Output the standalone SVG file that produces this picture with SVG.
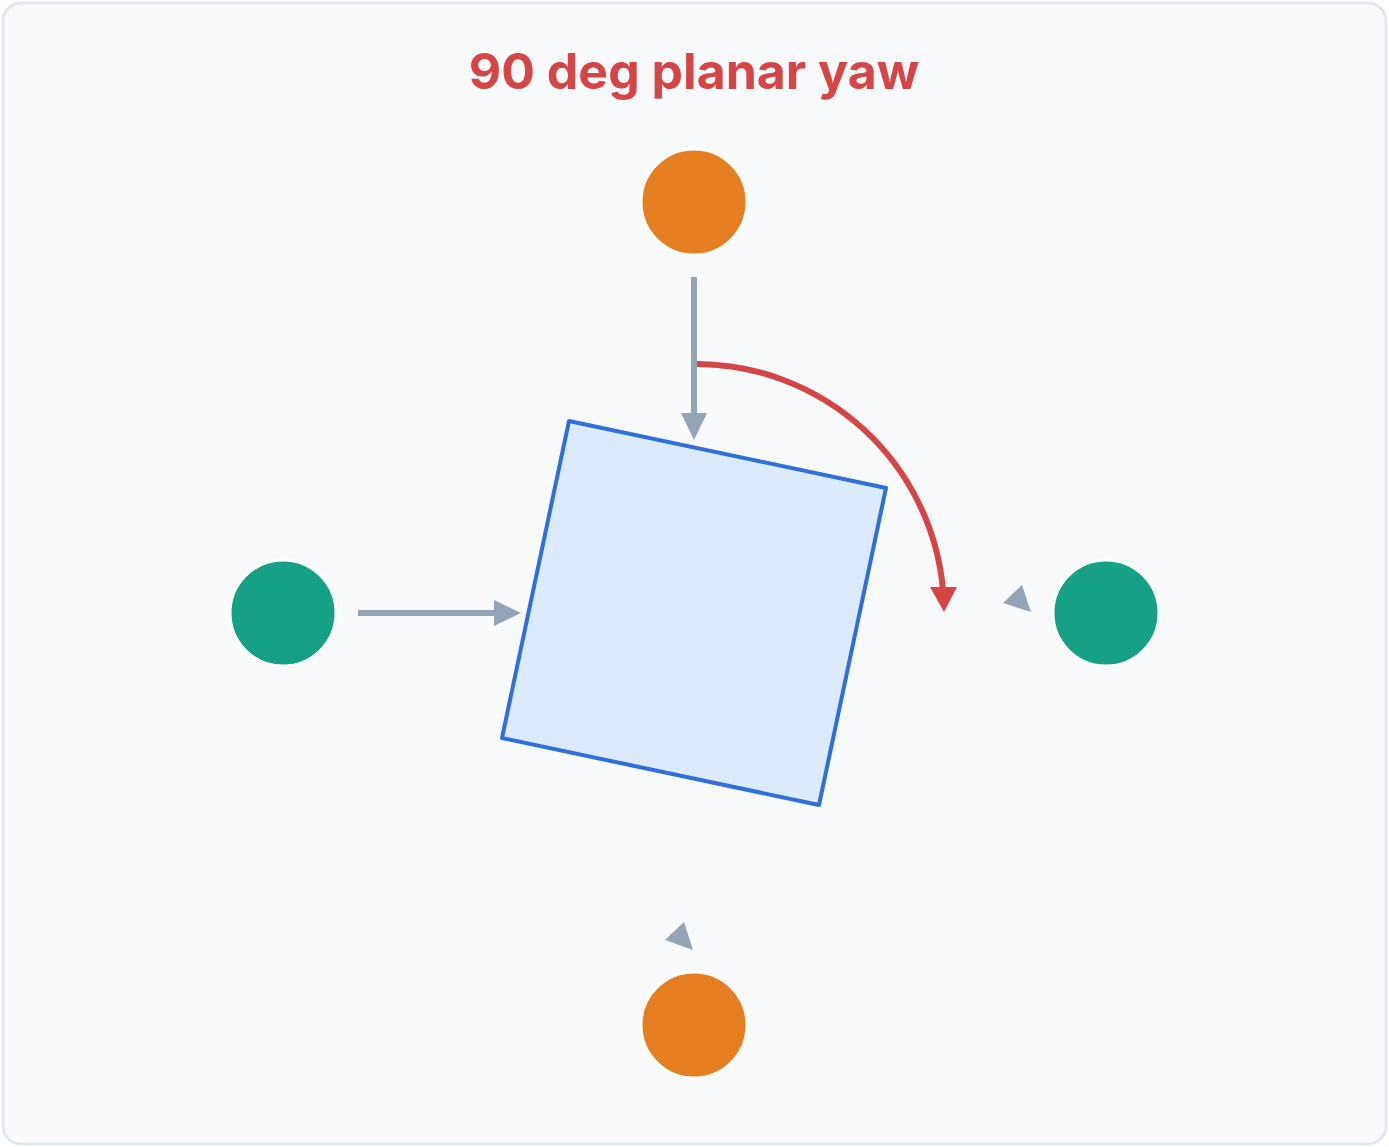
<svg xmlns="http://www.w3.org/2000/svg" width="1389" height="1147" viewBox="0 0 1389 1147">
<style>
.g{stroke:#94a3b8;stroke-width:6;fill:none}
.h{fill:#94a3b8}
</style>
<rect x="3" y="3" width="1383" height="1141" rx="18" fill="#f8fafc" stroke="#e2e8f0" stroke-width="3"/>
<text x="694" y="89" text-anchor="middle" font-family="Inter, 'Liberation Sans', sans-serif" font-weight="bold" font-size="50" fill="#d64545">90 deg planar yaw</text>
<g id="square"><polygon points="569,421 886,488 819,805 502,738" fill="#dbeafe" stroke="#2f6fdb" stroke-width="4" stroke-linejoin="round"/></g>
<g id="top"><circle cx="694" cy="202" r="53" fill="#e67e22" stroke="#fff" stroke-width="3"/></g>
<g id="bottom"><circle cx="694" cy="1025" r="53" fill="#e67e22" stroke="#fff" stroke-width="3"/></g>
<g id="left"><circle cx="283" cy="613" r="53" fill="#16a085" stroke="#fff" stroke-width="3"/></g>
<g id="right"><circle cx="1106" cy="613" r="53" fill="#16a085" stroke="#fff" stroke-width="3"/></g>
<g id="connectors">
<line class="g" x1="694" y1="277" x2="694" y2="415"/>
<polygon class="h" points="681,413 707,413 694,440"/>
<line class="g" x1="358" y1="613" x2="496" y2="613"/>
<polygon class="h" points="494,600 494,626 521,613"/>
<polygon class="h" points="1003,603 1022,585 1031,612"/>
<polygon class="h" points="665,940 684,922 693,950"/>
<path d="M697,364 A248,248 0 0 1 943,590" fill="none" stroke="#d64545" stroke-width="6"/>
<polygon fill="#d64545" points="930,587 957,587 944,612"/>
</g>
</svg>
